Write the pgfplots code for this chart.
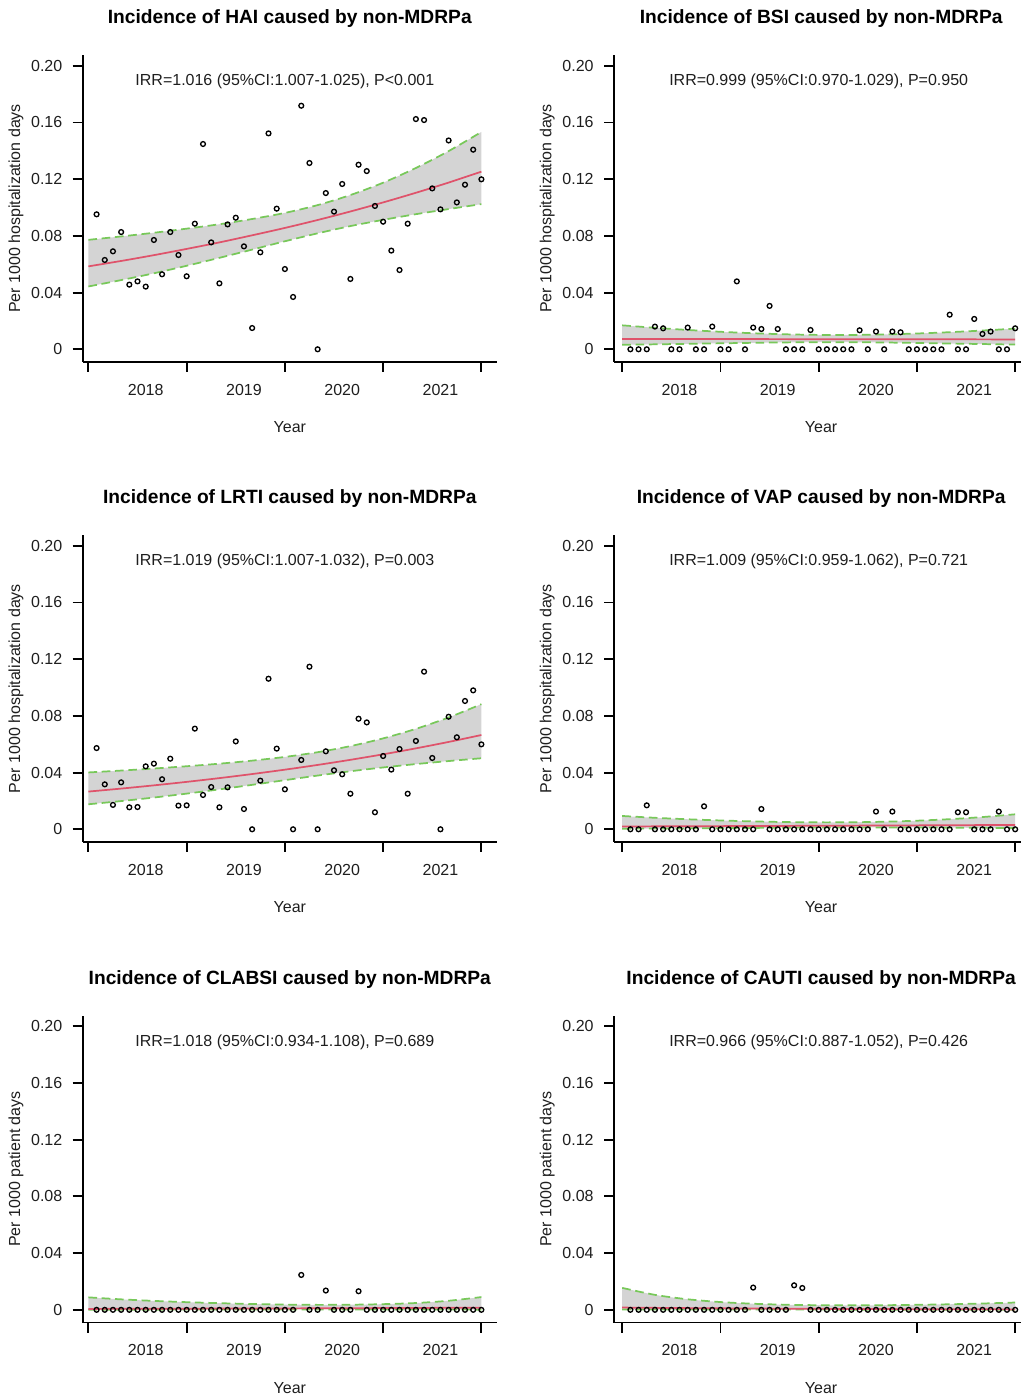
\documentclass[border=0pt]{standalone}
\usepackage{pgfplots}
\pgfplotsset{compat=1.18}
\usepackage{pgfplotstable}
\usepgfplotslibrary{fillbetween}
\usepackage{fontspec}
\setmainfont{Liberation Sans}
\definecolor{fitred}{RGB}{223,83,107}
\definecolor{cigreen}{RGB}{120,200,90}
\definecolor{bandgray}{RGB}{212,212,212}
\definecolor{txt}{RGB}{30,30,30}

% ---------- monthly observations ----------
\pgfplotstableread[row sep=\\]{i v\\
1 0.0952\\ 2 0.0630\\ 3 0.0691\\ 4 0.0827\\ 5 0.0456\\ 6 0.0479\\ 7 0.0442\\ 8 0.0771\\ 9 0.0529\\ 10 0.0827\\ 11 0.0665\\ 12 0.0515\\
13 0.0886\\ 14 0.1448\\ 15 0.0754\\ 16 0.0465\\ 17 0.0881\\ 18 0.0928\\ 19 0.0726\\ 20 0.0150\\ 21 0.0684\\ 22 0.1523\\ 23 0.0992\\ 24 0.0566\\
25 0.0369\\ 26 0.1718\\ 27 0.1314\\ 28 0\\ 29 0.1102\\ 30 0.0971\\ 31 0.1166\\ 32 0.0496\\ 33 0.1302\\ 34 0.1257\\ 35 0.1011\\ 36 0.0900\\
37 0.0696\\ 38 0.0559\\ 39 0.0886\\ 40 0.1624\\ 41 0.1617\\ 42 0.1135\\ 43 0.0987\\ 44 0.1473\\ 45 0.1036\\ 46 0.1161\\ 47 0.1408\\ 48 0.1199\\
}\haipts

\pgfplotstableread[row sep=\\]{i v\\
1 0\\ 2 0\\ 3 0\\ 4 0.0160\\ 5 0.0148\\ 6 0\\ 7 0\\ 8 0.0153\\ 9 0\\ 10 0\\ 11 0.0160\\ 12 0\\
13 0\\ 14 0.0479\\ 15 0\\ 16 0.0153\\ 17 0.0143\\ 18 0.0306\\ 19 0.0143\\ 20 0\\ 21 0\\ 22 0\\ 23 0.0136\\ 24 0\\
25 0\\ 26 0\\ 27 0\\ 28 0\\ 29 0.0134\\ 30 0\\ 31 0.0125\\ 32 0\\ 33 0.0125\\ 34 0.0120\\ 35 0\\ 36 0\\
37 0\\ 38 0\\ 39 0\\ 40 0.0244\\ 41 0\\ 42 0\\ 43 0.0214\\ 44 0.0108\\ 45 0.0125\\ 46 0\\ 47 0\\ 48 0.0148\\
}\bsipts

\pgfplotstableread[row sep=\\]{i v\\
1 0.0573\\ 2 0.0317\\ 3 0.0172\\ 4 0.0331\\ 5 0.0155\\ 6 0.0157\\ 7 0.0444\\ 8 0.0463\\ 9 0.0353\\ 10 0.0498\\ 11 0.0167\\ 12 0.0169\\
13 0.0710\\ 14 0.0242\\ 15 0.0298\\ 16 0.0155\\ 17 0.0296\\ 18 0.0620\\ 19 0.0143\\ 20 0\\ 21 0.0343\\ 22 0.1062\\ 23 0.0569\\ 24 0.0282\\
25 0\\ 26 0.0489\\ 27 0.1147\\ 28 0\\ 29 0.0550\\ 30 0.0416\\ 31 0.0388\\ 32 0.0251\\ 33 0.0780\\ 34 0.0754\\ 35 0.0120\\ 36 0.0517\\
37 0.0421\\ 38 0.0566\\ 39 0.0251\\ 40 0.0623\\ 41 0.1112\\ 42 0.0503\\ 43 0\\ 44 0.0794\\ 45 0.0649\\ 46 0.0905\\ 47 0.0980\\ 48 0.0599\\
}\lrtipts

\pgfplotstableread[row sep=\\]{i v\\
1 0\\ 2 0\\ 3 0.0169\\ 4 0\\ 5 0\\ 6 0\\ 7 0\\ 8 0\\ 9 0\\ 10 0.0162\\ 11 0\\ 12 0\\
13 0\\ 14 0\\ 15 0\\ 16 0\\ 17 0.0143\\ 18 0\\ 19 0\\ 20 0\\ 21 0\\ 22 0\\ 23 0\\ 24 0\\
25 0\\ 26 0\\ 27 0\\ 28 0\\ 29 0\\ 30 0\\ 31 0.0125\\ 32 0\\ 33 0.0125\\ 34 0\\ 35 0\\ 36 0\\
37 0\\ 38 0\\ 39 0\\ 40 0\\ 41 0.0120\\ 42 0.0120\\ 43 0\\ 44 0\\ 45 0\\ 46 0.0125\\ 47 0\\ 48 0\\
}\vappts

\pgfplotstableread[row sep=\\]{i v\\
1 0\\ 2 0\\ 3 0\\ 4 0\\ 5 0\\ 6 0\\ 7 0\\ 8 0\\ 9 0\\ 10 0\\ 11 0\\ 12 0\\
13 0\\ 14 0\\ 15 0\\ 16 0\\ 17 0\\ 18 0\\ 19 0\\ 20 0\\ 21 0\\ 22 0\\ 23 0\\ 24 0\\
25 0\\ 26 0.0246\\ 27 0\\ 28 0\\ 29 0.0136\\ 30 0\\ 31 0\\ 32 0\\ 33 0.0131\\ 34 0\\ 35 0\\ 36 0\\
37 0\\ 38 0\\ 39 0\\ 40 0\\ 41 0\\ 42 0\\ 43 0\\ 44 0\\ 45 0\\ 46 0\\ 47 0\\ 48 0\\
}\clabsipts

\pgfplotstableread[row sep=\\]{i v\\
1 0\\ 2 0\\ 3 0\\ 4 0\\ 5 0\\ 6 0\\ 7 0\\ 8 0\\ 9 0\\ 10 0\\ 11 0\\ 12 0\\
13 0\\ 14 0\\ 15 0\\ 16 0.0157\\ 17 0\\ 18 0\\ 19 0\\ 20 0\\ 21 0.0173\\ 22 0.0154\\ 23 0\\ 24 0\\
25 0\\ 26 0\\ 27 0\\ 28 0\\ 29 0\\ 30 0\\ 31 0\\ 32 0\\ 33 0\\ 34 0\\ 35 0\\ 36 0\\
37 0\\ 38 0\\ 39 0\\ 40 0\\ 41 0\\ 42 0\\ 43 0\\ 44 0\\ 45 0\\ 46 0\\ 47 0\\ 48 0\\
}\cautipts

% ---------- fitted curve and 95% band ----------
\pgfplotstableread[row sep=\\]{i mu up lo\\
0 0.0585 0.0772 0.0443\\ 4 0.0623 0.0796 0.0488\\ 8 0.0664 0.0822 0.0536\\ 12 0.0708 0.0851 0.0589\\
16 0.0754 0.0882 0.0645\\ 20 0.0804 0.0919 0.0703\\ 24 0.0856 0.0962 0.0762\\ 28 0.0912 0.1017 0.0818\\
32 0.0972 0.1088 0.0869\\ 36 0.1036 0.1175 0.0913\\ 40 0.1104 0.1279 0.0953\\ 44 0.1176 0.1398 0.0989\\
48 0.1253 0.1533 0.1024\\
}\haifit

\pgfplotstableread[row sep=\\]{i mu up lo\\
0 0.00730 0.01691 0.00315\\ 4 0.00727 0.01515 0.00349\\ 8 0.00724 0.01363 0.00385\\ 12 0.00721 0.01235 0.00421\\
16 0.00718 0.01131 0.00456\\ 20 0.00716 0.01056 0.00485\\ 24 0.00713 0.01014 0.00501\\ 28 0.00710 0.01011 0.00499\\
32 0.00707 0.01046 0.00478\\ 36 0.00704 0.01113 0.00445\\ 40 0.00701 0.01206 0.00407\\ 44 0.00699 0.01323 0.00369\\
48 0.00696 0.01458 0.00332\\
}\bsifit

\pgfplotstableread[row sep=\\]{i mu up lo\\
0 0.0266 0.0401 0.01765\\ 4 0.02871 0.04142 0.0199\\ 8 0.03099 0.04287 0.0224\\ 12 0.03345 0.04447 0.02516\\
16 0.0361 0.04628 0.02816\\ 20 0.03897 0.04843 0.03136\\ 24 0.04206 0.05104 0.03466\\ 28 0.0454 0.05438 0.0379\\
32 0.049 0.05867 0.04093\\ 36 0.05289 0.06413 0.04362\\ 40 0.05709 0.07085 0.046\\ 44 0.06162 0.07887 0.04814\\
48 0.0665 0.08825 0.05011\\
}\lrtifit

\pgfplotstableread[row sep=\\]{i mu up lo\\
0 0.0020 0.0094 0.00043\\ 4 0.00207 0.00811 0.00053\\ 8 0.00215 0.00707 0.00065\\ 12 0.00223 0.00623 0.0008\\
16 0.00231 0.00557 0.00096\\ 20 0.00239 0.0051 0.00112\\ 24 0.00248 0.00489 0.00126\\ 28 0.00257 0.00495 0.00133\\
32 0.00266 0.00533 0.00133\\ 36 0.00276 0.00606 0.00126\\ 40 0.00286 0.00714 0.00115\\ 44 0.00297 0.00863 0.00102\\
48 0.00308 0.01058 0.0009\\
}\vapfit

\pgfplotstableread[row sep=\\]{i mu up lo\\
0 0.00065 0.0088 0.00005\\ 4 0.0007 0.0074 0.00008\\ 8 0.00075 0.0063 0.00012\\ 12 0.0008 0.0054 0.00016\\
16 0.0009 0.0047 0.0002\\ 20 0.00095 0.0041 0.00024\\ 24 0.0010 0.0037 0.00027\\ 28 0.00107 0.0035 0.00029\\
32 0.00115 0.0036 0.00028\\ 36 0.00124 0.0040 0.00026\\ 40 0.00133 0.0048 0.00022\\ 44 0.00143 0.0064 0.00017\\
48 0.00153 0.0090 0.00013\\
}\clabsifit

\pgfplotstableread[row sep=\\]{i mu up lo\\
0 0.0016 0.01549 0.000165\\ 4 0.001393 0.01056 0.000184\\ 8 0.001213 0.00744 0.000198\\ 12 0.001057 0.00549 0.000204\\
16 0.00092 0.00429 0.000197\\ 20 0.000801 0.0036 0.000178\\ 24 0.000698 0.00326 0.000149\\ 28 0.000608 0.00318 0.000116\\
32 0.000529 0.00327 0.0000855\\ 36 0.000461 0.00353 0.00006\\ 40 0.000401 0.00392 0.000041\\ 44 0.000349 0.00446 0.000027\\
48 0.000304 0.00515 0.000018\\
}\cautifit

\newcommand{\txtfont}{\fontsize{12}{14}\selectfont}

\pgfplotsset{panel/.style={
  scale only axis, width=310.7pt, height=230.25pt, anchor=south west,
  set layers, clip=false,
  ymin=-0.00896, ymax=0.2076,
  axis lines*=left,
  axis line style={line width=1.4pt, black},
  tick align=outside,
  major tick length=7.5pt,
  every tick/.style={line width=1.4pt, black},
  xtick={0,12,24,36,48}, xticklabels={},
  extra x ticks={7,19,31,43},
  extra x tick labels={2018,2019,2020,2021},
  extra x tick style={major tick length=0pt, xticklabel style={yshift=-13pt}},
  ytick={0,0.04,0.08,0.12,0.16,0.2},
  yticklabels={0,0.04,0.08,0.12,0.16,0.20},
  yticklabel style={xshift=-4.25pt},
  ticklabel style={font=\txtfont, text=txt},
  /pgf/number format/assume math mode=true,
  every axis title/.style={at={(rel axis cs:0.5,1)}, anchor=base, yshift=23.25pt,
     font=\bfseries\fontsize{14.4}{17}\selectfont, text=black},
  every axis y label/.style={at={([xshift=-50pt]rel axis cs:0,0.5)}, rotate=90, anchor=center,
     font=\txtfont, text=txt},
  xlabel={Year},
  every axis x label/.style={at={(rel axis cs:0.5,0)}, anchor=base, yshift=-53pt,
     font=\txtfont, text=txt},
}}

\newcommand{\panel}[9]{%
\begin{axis}[panel, at={(#1,#2)}, xmin=#3, xmax=#4, title={#5}, ylabel={#6}]
\addplot[only marks, mark=o, mark size=1.8pt, mark options={line width=1pt, black}] table[x=i,y=v]{#8};
\addplot[name path=U, cigreen, line width=1.3pt, dash pattern=on 6.5pt off 3.5pt, smooth] table[x=i,y=up]{#9};
\addplot[name path=L, cigreen, line width=1.3pt, dash pattern=on 6.5pt off 3.5pt, smooth] table[x=i,y=lo]{#9};
\addplot[fitred, line width=1.3pt, smooth] table[x=i,y=mu]{#9};
\addplot[bandgray, draw=none] fill between[of=U and L];
\node[anchor=base, font=\txtfont, text=txt] at (axis cs:24,0.186) {#7};
\end{axis}}

\begin{document}
\begin{tikzpicture}
\panel{62pt}{777pt}{-0.7}{49.9}{Incidence of HAI caused by non-MDRPa}{Per 1000 hospitalization days}{IRR=1.016 (95\%CI:1.007-1.025), P<0.001}{\haipts}{\haifit}
\panel{460.5pt}{777pt}{-1.0}{49.6}{Incidence of BSI caused by non-MDRPa}{Per 1000 hospitalization days}{IRR=0.999 (95\%CI:0.970-1.029), P=0.950}{\bsipts}{\bsifit}
\panel{62pt}{417pt}{-0.7}{49.9}{Incidence of LRTI caused by non-MDRPa}{Per 1000 hospitalization days}{IRR=1.019 (95\%CI:1.007-1.032), P=0.003}{\lrtipts}{\lrtifit}
\panel{460.5pt}{417pt}{-1.0}{49.6}{Incidence of VAP caused by non-MDRPa}{Per 1000 hospitalization days}{IRR=1.009 (95\%CI:0.959-1.062), P=0.721}{\vappts}{\vapfit}
\panel{62pt}{56.6pt}{-0.7}{49.9}{Incidence of CLABSI caused by non-MDRPa}{Per 1000 patient days}{IRR=1.018 (95\%CI:0.934-1.108), P=0.689}{\clabsipts}{\clabsifit}
\panel{460.5pt}{56.6pt}{-1.0}{49.6}{Incidence of CAUTI caused by non-MDRPa}{Per 1000 patient days}{IRR=0.966 (95\%CI:0.887-1.052), P=0.426}{\cautipts}{\cautifit}
\pgfresetboundingbox
\path[use as bounding box] (0,0) rectangle (765pt,1048.5pt);
\end{tikzpicture}
\end{document}
